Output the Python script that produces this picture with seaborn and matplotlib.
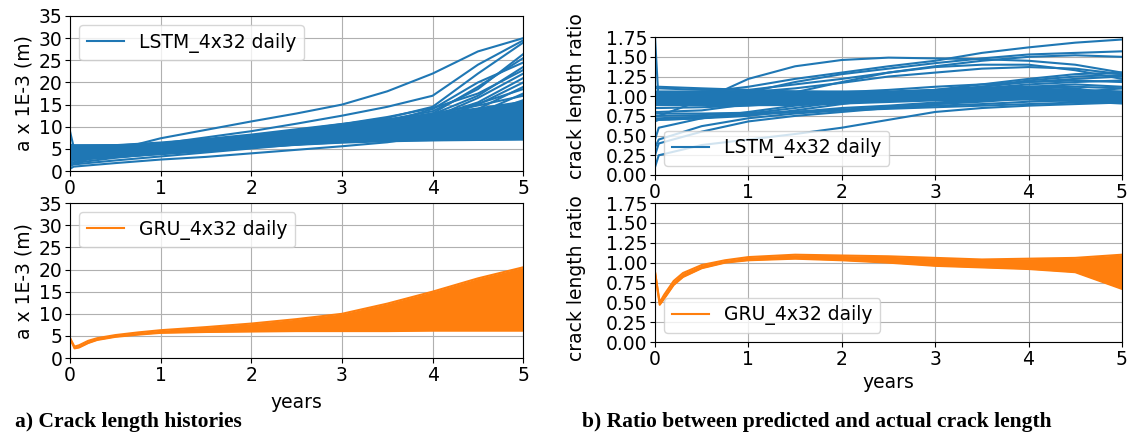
import numpy as np
import pandas as pd
import matplotlib
matplotlib.use("Agg")
import matplotlib.pyplot as plt
from matplotlib.lines import Line2D
from matplotlib.ticker import FormatStrFormatter
import seaborn as sns

BLUE = "#1f77b4"
ORANGE = "#ff7f0e"

# shared time grid (years)
years = [0, 0.04, 0.5, 1, 1.5, 2, 2.5, 3, 3.5, 4, 4.5, 5]
years_gru = [0, 0.05, 0.1, 0.2, 0.3, 0.5, 0.75, 1, 1.5, 2, 2.5, 3, 3.5, 4, 4.5, 5]

# LSTM crack length (a x 1E-3 m): dense core + individual runs
lstm_core_lo = [2.5, 2.5, 3.0, 3.8, 4.5, 5.2, 5.8, 6.3, 6.6, 6.8, 6.9, 7.0]
lstm_core_hi = [6.0, 6.0, 6.2, 6.8, 7.6, 8.6, 9.8, 11.0, 12.0, 13.2, 14.5, 16.0]
lstm_runs = [
    [2.0, 2.0, 4.8, 7.4, 9.3, 11.2, 13.0, 15.0, 18.0, 22.0, 27.0, 30.0],
    [1.5, 1.8, 4.2, 6.2, 7.6, 9.0, 10.7, 12.5, 14.5, 17.0, 24.0, 29.5],
    [3.0, 3.5, 4.5, 5.5, 6.5, 7.7, 9.0, 10.5, 12.0, 14.5, 22.0, 29.0],
    [4.0, 4.5, 5.0, 5.6, 6.4, 7.4, 8.6, 10.0, 11.6, 13.5, 18.5, 26.4],
    [5.0, 5.2, 5.4, 5.9, 6.6, 7.5, 8.5, 9.7, 11.0, 13.0, 19.0, 25.5],
    [3.5, 4.0, 4.6, 5.4, 6.2, 7.2, 8.3, 9.5, 11.0, 14.0, 20.0, 24.5],
    [5.5, 5.6, 5.7, 6.0, 6.6, 7.4, 8.2, 9.2, 10.5, 12.8, 17.0, 23.5],
    [2.5, 3.0, 4.0, 5.0, 6.0, 7.0, 8.0, 9.0, 10.3, 12.0, 16.5, 22.0],
    [4.5, 4.8, 5.2, 5.7, 6.4, 7.2, 8.0, 9.0, 10.0, 11.5, 15.0, 20.0],
    [6.0, 5.8, 5.8, 6.1, 6.6, 7.3, 8.0, 8.8, 9.8, 11.3, 14.0, 19.0],
    [3.0, 3.3, 4.2, 5.0, 5.8, 6.6, 7.4, 8.3, 9.3, 10.8, 13.0, 17.5],
    [5.0, 5.0, 5.3, 5.8, 6.3, 7.0, 7.8, 8.6, 9.5, 10.6, 12.5, 16.0],
    [0.5, 1.0, 1.8, 2.6, 3.2, 4.0, 4.8, 5.6, 6.5, 8.0, 10.5, 14.5],
    [9.0, 5.5, 5.5, 5.8, 6.2, 6.8, 7.3, 8.0, 8.8, 9.8, 11.0, 12.3],
    [1.0, 1.8, 3.0, 4.0, 4.8, 5.5, 6.0, 6.5, 7.0, 7.8, 8.8, 10.0],
    [2.0, 2.5, 3.2, 3.8, 4.5, 5.4, 6.2, 6.8, 7.2, 7.5, 7.8, 8.0],
    [4.0, 4.2, 4.6, 5.0, 5.5, 6.0, 6.4, 6.7, 6.9, 7.0, 7.1, 7.2],
    [5.8, 5.8, 5.8, 6.2, 6.8, 7.6, 8.4, 9.4, 10.6, 12.2, 15.5, 21.0],
    [4.2, 4.4, 5.0, 5.8, 6.8, 7.9, 9.2, 10.6, 12.2, 14.2, 17.5, 22.8],
    [3.8, 4.0, 4.6, 5.3, 6.1, 7.0, 8.0, 9.2, 10.6, 12.5, 15.2, 18.5],
    [5.2, 5.3, 5.6, 6.1, 6.9, 7.9, 9.0, 10.2, 11.5, 13.0, 14.8, 17.0],
    [2.8, 3.0, 3.8, 4.7, 5.6, 6.5, 7.5, 8.6, 9.8, 11.2, 12.8, 14.5],
    [1.2, 1.5, 2.4, 3.3, 4.2, 5.1, 6.0, 6.9, 7.8, 9.0, 10.5, 12.0],
]

# LSTM crack length ratio
lstm_ratio_core_lo = [0.88, 0.88, 0.88, 0.88, 0.88, 0.90, 0.92, 0.94, 0.95, 0.95, 0.93, 0.90]
lstm_ratio_core_hi = [1.08, 1.08, 1.08, 1.08, 1.08, 1.08, 1.08, 1.10, 1.12, 1.12, 1.10, 1.08]
lstm_ratio_runs = [
    [1.00, 1.00, 1.05, 1.12, 1.22, 1.30, 1.38, 1.45, 1.55, 1.62, 1.68, 1.72],
    [0.75, 0.75, 0.95, 1.22, 1.38, 1.46, 1.49, 1.48, 1.47, 1.45, 1.40, 1.30],
    [0.90, 0.90, 0.95, 1.05, 1.18, 1.28, 1.35, 1.42, 1.48, 1.53, 1.55, 1.57],
    [1.10, 1.10, 1.08, 1.08, 1.15, 1.22, 1.30, 1.38, 1.45, 1.50, 1.52, 1.50],
    [0.80, 0.80, 0.82, 0.90, 1.05, 1.18, 1.30, 1.37, 1.40, 1.40, 1.33, 1.22],
    [1.00, 1.00, 1.02, 1.05, 1.10, 1.17, 1.25, 1.30, 1.35, 1.37, 1.35, 1.28],
    [0.10, 0.25, 0.38, 0.45, 0.52, 0.60, 0.70, 0.80, 0.85, 0.88, 0.90, 0.92],
    [0.35, 0.45, 0.62, 0.72, 0.78, 0.82, 0.86, 0.90, 0.95, 1.00, 1.05, 1.10],
    [0.25, 0.40, 0.55, 0.68, 0.75, 0.80, 0.85, 0.88, 0.90, 0.93, 0.95, 0.98],
    [0.45, 0.60, 0.72, 0.80, 0.88, 0.95, 1.00, 1.05, 1.10, 1.15, 1.18, 1.20],
    [0.70, 0.70, 0.72, 0.75, 0.82, 0.90, 0.98, 1.05, 1.12, 1.20, 1.25, 1.27],
    [0.75, 0.75, 0.76, 0.78, 0.80, 0.83, 0.86, 0.90, 0.93, 0.97, 1.00, 1.05],
    [1.12, 1.12, 1.10, 1.08, 1.06, 1.05, 1.05, 1.07, 1.10, 1.12, 1.12, 1.10],
    [0.95, 0.95, 0.98, 1.00, 1.02, 1.05, 1.08, 1.12, 1.15, 1.18, 1.20, 1.18],
    [0.85, 0.85, 0.86, 0.88, 0.92, 0.97, 1.02, 1.06, 1.10, 1.12, 1.10, 1.02],
    [1.05, 1.05, 1.04, 1.03, 1.02, 1.02, 1.03, 1.05, 1.08, 1.12, 1.15, 1.12],
    [0.72, 0.72, 0.74, 0.76, 0.80, 0.85, 0.88, 0.92, 0.95, 0.97, 0.96, 0.92],
    [1.75, 0.90, 0.90, 0.92, 0.95, 1.00, 1.05, 1.08, 1.12, 1.18, 1.22, 1.25],
    [0.68, 0.70, 0.72, 0.78, 0.85, 0.93, 1.00, 1.08, 1.15, 1.22, 1.28, 1.30],
    [0.90, 0.90, 0.92, 0.95, 0.98, 1.00, 1.02, 1.03, 1.05, 1.05, 1.02, 0.98],
    [0.78, 0.78, 0.78, 0.79, 0.80, 0.82, 0.84, 0.86, 0.88, 0.90, 0.92, 0.94],
]

# GRU crack length envelope
gru_lo = [4.5, 2.2, 2.4, 3.4, 4.1, 4.8, 5.3, 5.7, 5.9, 6.0, 6.1, 6.1, 6.1, 6.2, 6.2, 6.2]
gru_hi = [4.5, 2.6, 2.9, 3.9, 4.5, 5.2, 5.8, 6.3, 7.0, 7.8, 8.8, 10.0, 12.3, 15.0, 18.0, 20.5]

# GRU crack length ratio envelope
gru_ratio_lo = [0.88, 0.47, 0.55, 0.72, 0.82, 0.93, 1.00, 1.03, 1.05, 1.03, 1.00, 0.96, 0.94, 0.92, 0.88, 0.67]
gru_ratio_hi = [0.88, 0.50, 0.60, 0.77, 0.87, 0.97, 1.03, 1.07, 1.10, 1.09, 1.08, 1.06, 1.04, 1.05, 1.06, 1.10]


def runs_frame(x, runs):
    rows = []
    for i, r in enumerate(runs):
        rows.append(pd.DataFrame({"years": x, "value": r, "run": i}))
    return pd.concat(rows, ignore_index=True)


FS = 13.5
plt.rcParams["font.family"] = "DejaVu Sans"
plt.rcParams["font.size"] = FS

fig = plt.figure(figsize=(11.36, 4.32), dpi=100)
ax_a1 = fig.add_axes([0.0616, 0.604, 0.399, 0.359])
ax_a2 = fig.add_axes([0.0616, 0.171, 0.399, 0.359])
ax_b1 = fig.add_axes([0.5766, 0.595, 0.411, 0.319])
ax_b2 = fig.add_axes([0.5766, 0.208, 0.411, 0.322])

# a) crack length LSTM
ax_a1.fill_between(years, lstm_core_lo, lstm_core_hi, color=BLUE, lw=0)
sns.lineplot(data=runs_frame(years, lstm_runs), x="years", y="value", units="run",
             estimator=None, color=BLUE, lw=1.5, ax=ax_a1, legend=False)

# a) crack length GRU
ax_a2.fill_between(years_gru, gru_lo, gru_hi, color=ORANGE, lw=0)
sns.lineplot(data=runs_frame(years_gru, [gru_lo, gru_hi]), x="years", y="value", units="run",
             estimator=None, color=ORANGE, lw=1.5, ax=ax_a2, legend=False)

# b) ratio LSTM
ax_b1.fill_between(years, lstm_ratio_core_lo, lstm_ratio_core_hi, color=BLUE, lw=0)
sns.lineplot(data=runs_frame(years, lstm_ratio_runs), x="years", y="value", units="run",
             estimator=None, color=BLUE, lw=1.5, ax=ax_b1, legend=False)

# b) ratio GRU
ax_b2.fill_between(years_gru, gru_ratio_lo, gru_ratio_hi, color=ORANGE, lw=0)
sns.lineplot(data=runs_frame(years_gru, [gru_ratio_lo, gru_ratio_hi]), x="years", y="value", units="run",
             estimator=None, color=ORANGE, lw=1.5, ax=ax_b2, legend=False)

for ax in (ax_a1, ax_a2):
    ax.set_xlim(0, 5)
    ax.set_ylim(0, 35)
    ax.set_yticks(range(0, 36, 5))
    ax.set_ylabel("a x 1E-3 (m)", fontsize=FS)
    ax.set_xlabel("")

for ax in (ax_b1, ax_b2):
    ax.set_xlim(0, 5)
    ax.set_ylim(0, 1.75)
    ax.set_yticks(np.arange(0, 1.76, 0.25))
    ax.yaxis.set_major_formatter(FormatStrFormatter("%.2f"))
    ax.set_ylabel("crack length ratio", fontsize=FS)
    ax.set_xlabel("")

# the two ratio panels come from separate figures, labels sit off-centre
ax_b1.yaxis.set_label_coords(-0.148, 0.572)
ax_b2.yaxis.set_label_coords(-0.148, 0.46)

for ax in (ax_a1, ax_a2, ax_b1, ax_b2):
    ax.set_xticks(range(0, 6))
    ax.grid(True, color="#b0b0b0", lw=0.8)
    ax.set_axisbelow(True)
    ax.tick_params(labelsize=FS, pad=2)

ax_a2.set_xlabel("years", fontsize=FS, labelpad=6)
ax_b2.set_xlabel("years", fontsize=FS, labelpad=3)

ax_a1.legend([Line2D([], [], color=BLUE, lw=1.5)], ["LSTM_4x32 daily"], loc="upper left", fontsize=FS)
ax_a2.legend([Line2D([], [], color=ORANGE, lw=1.5)], ["GRU_4x32 daily"], loc="upper left", fontsize=FS)
ax_b1.legend([Line2D([], [], color=BLUE, lw=1.5)], ["LSTM_4x32 daily"], loc="lower left", fontsize=FS)
ax_b2.legend([Line2D([], [], color=ORANGE, lw=1.5)], ["GRU_4x32 daily"], loc="lower left", fontsize=FS)

fig.text(0.013, 0.012, "a) Crack length histories", family="Liberation Serif",
         weight="bold", fontsize=15.5)
fig.text(0.512, 0.012, "b) Ratio between predicted and actual crack length", family="Liberation Serif",
         weight="bold", fontsize=15.5)

fig.savefig("out.png", dpi=100)
